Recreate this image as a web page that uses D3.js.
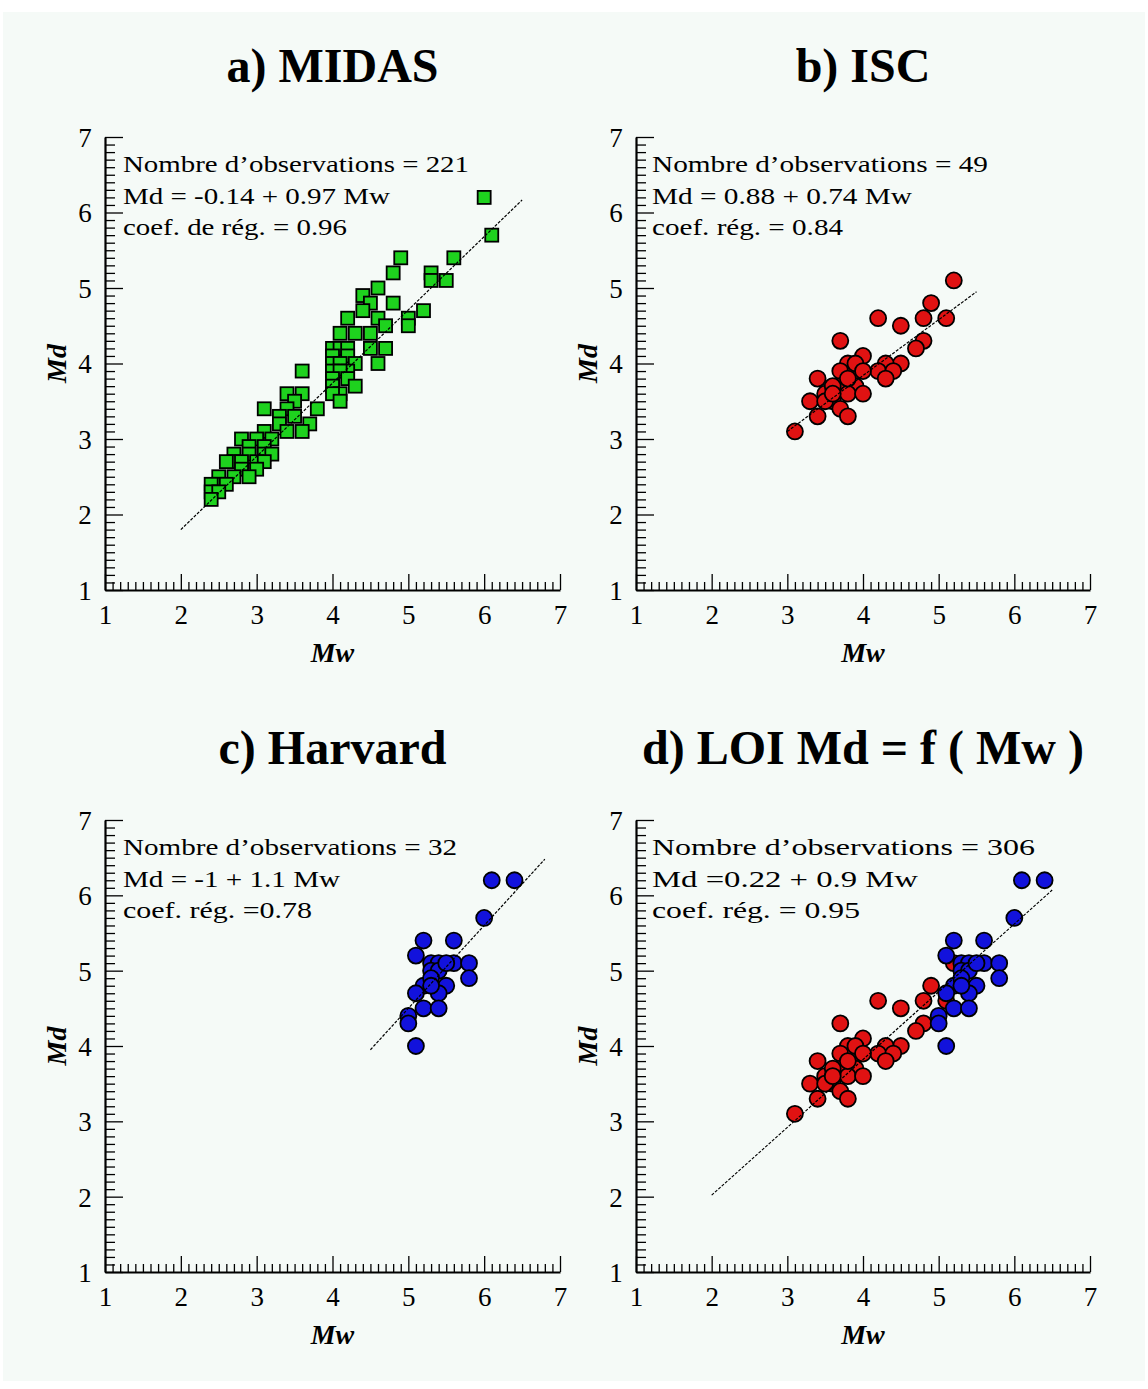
<!DOCTYPE html>
<html><head><meta charset="utf-8">
<script src="https://cdn.jsdelivr.net/npm/d3@7"></script>
<style>body{margin:0;background:#fff}svg{display:block}</style>
</head><body>
<script>
// ---------------- DATA ----------------
const tickValues = [1, 2, 3, 4, 5, 6, 7];
const titles = ["a) MIDAS", "b) ISC", "c) Harvard", "d) LOI Md = f ( Mw )"];
const annotations = [
  ["Nombre d’observations = 221", "Md = -0.14 + 0.97 Mw", "coef. de rég. = 0.96"],
  ["Nombre d’observations = 49", "Md = 0.88 + 0.74 Mw", "coef. rég. = 0.84"],
  ["Nombre d’observations = 32", "Md = -1 + 1.1 Mw", "coef. rég. =0.78"],
  ["Nombre d’observations = 306", "Md =0.22 + 0.9 Mw", "coef. rég. = 0.95"]
];
const midasMw = [6.0,6.1,4.9,4.8,5.6,5.3,5.3,5.5,4.6,4.4,4.5,4.8,4.4,4.6,4.2,4.7,5.0,5.2,5.0,4.3,4.5,4.1,4.5,4.7,4.6,
  4.0,4.1,4.2,4.0,4.2,4.0,4.1,4.3,4.0,4.2,4.1,4.0,4.2,4.3,4.0,4.1,4.0,4.1,3.6,
  3.6,3.4,3.5,3.1,3.4,3.8,3.3,3.5,3.3,3.7,3.4,3.6,3.1,3.2,2.8,3.0,2.9,3.1,2.9,3.1,3.2,2.7,2.7,2.6,2.8,3.0,3.1,
  2.8,3.0,2.9,2.7,2.5,2.5,2.4,2.6,2.4,2.5,2.4];
const midasMd = [6.2,5.7,5.4,5.2,5.4,5.2,5.1,5.1,5.0,4.9,4.8,4.8,4.7,4.6,4.6,4.5,4.6,4.7,4.5,4.4,4.4,4.4,4.2,4.2,4.0,
  4.2,4.2,4.2,4.1,4.1,4.0,4.0,4.0,3.9,3.9,3.9,3.8,3.8,3.7,3.7,3.6,3.6,3.5,3.9,
  3.6,3.6,3.5,3.4,3.4,3.4,3.3,3.3,3.2,3.2,3.1,3.1,3.1,3.0,3.0,3.0,2.9,2.9,2.8,2.8,2.8,2.8,2.7,2.7,2.7,2.7,2.7,
  2.6,2.6,2.5,2.5,2.5,2.4,2.4,2.4,2.3,2.3,2.2];
const iscMw = [5.2,4.9,4.2,4.8,5.1,4.5,3.7,4.8,4.7,4.0,4.5,4.3,3.8,3.7,3.9,4.2,4.4,4.3,3.4,3.7,3.9,3.5,3.8,4.0,3.3,3.6,3.7,3.4,3.8,3.1,3.6,3.8,3.9,4.0,3.5,3.6];
const iscMd = [5.1,4.8,4.6,4.6,4.6,4.5,4.3,4.3,4.2,4.1,4.0,4.0,4.0,3.9,3.9,3.9,3.9,3.8,3.8,3.7,3.7,3.6,3.6,3.6,3.5,3.5,3.4,3.3,3.3,3.1,3.7,3.8,4.0,3.9,3.5,3.6];
const harvardMw = [6.1,6.4,6.0,5.2,5.6,5.1,5.3,5.4,5.6,5.8,5.8,5.3,5.4,5.5,5.2,5.3,5.1,5.4,5.3,5.2,5.4,5.0,5.0,5.1,5.5];
const harvardMd = [6.2,6.2,5.7,5.4,5.4,5.2,5.1,5.1,5.1,5.1,4.9,5.0,5.0,4.8,4.8,4.9,4.7,4.7,4.8,4.5,4.5,4.4,4.3,4.0,5.1];
const fitIntercept = [-0.14, 0.88, -1, 0.22];
const fitSlope = [0.97, 0.74, 1.1, 0.9];
const fitFrom = [2, 3, 4.5, 2];
const fitTo = [6.5, 5.5, 6.8, 6.5];

// ---------------- LAYOUT ----------------
const W = 1148, H = 1389;
const layout = [
  {x0:105, x1:560, y0:137, y1:590, titleY:82, annoX:123, annoW:[346,267,224]},
  {x0:636, x1:1090, y0:137, y1:590, titleY:82, annoX:652, annoW:[336,260,191]},
  {x0:105, x1:560, y0:820, y1:1272, titleY:764, annoX:123, annoW:[334,217,189]},
  {x0:636, x1:1090, y0:820, y1:1272, titleY:764, annoX:652, annoW:[383,266,208]}
];
const GREEN = "#1ed21e", RED = "#e01212", BLUE = "#1212dc";
const seriesByPanel = [
  [{mw: midasMw, md: midasMd, shape: "square", color: GREEN}],
  [{mw: iscMw, md: iscMd, shape: "circle", color: RED}],
  [{mw: harvardMw, md: harvardMd, shape: "circle", color: BLUE}],
  [{mw: iscMw, md: iscMd, shape: "circle", color: RED}, {mw: harvardMw, md: harvardMd, shape: "circle", color: BLUE}]
];
const FONT = "Liberation Serif";
const minor = d3.range(10, 71).filter(d => d % 10 !== 0).map(d => d / 10);

const svg = d3.select("body").append("svg").attr("width", W).attr("height", H);
svg.append("rect").attr("width", W).attr("height", H).attr("fill", "#ffffff");
svg.append("rect").attr("x", 3).attr("y", 12).attr("width", W - 6).attr("height", H - 20).attr("fill", "#f5faf7");

layout.forEach((L, i) => {
  const x = d3.scaleLinear().domain([1, 7]).range([L.x0, L.x1]);
  const y = d3.scaleLinear().domain([1, 7]).range([L.y1, L.y0]);
  const g = svg.append("g");

  // title
  g.append("text").attr("x", (L.x0 + L.x1) / 2).attr("y", L.titleY)
    .attr("text-anchor", "middle").style("font-family", FONT).attr("font-weight", "bold")
    .attr("font-size", 48).attr("fill", "#000").text(titles[i]);

  // x axis minor
  const gxm = g.append("g").attr("transform", `translate(0,${L.y1})`)
    .call(d3.axisBottom(x).tickValues(minor).tickSize(-8).tickSizeOuter(0).tickFormat(""));
  gxm.select(".domain").remove();
  const gx = g.append("g").attr("transform", `translate(0,${L.y1})`)
    .call(d3.axisBottom(x).tickValues(tickValues).tickSize(-16).tickSizeOuter(0).tickFormat(d3.format("d")));
  gx.select(".domain").attr("stroke-width", 2.2);
  gx.selectAll("text").attr("y", 34).attr("dy", null).style("font-family", FONT).attr("font-size", 27).attr("fill", "#000");

  // y axis minor
  const gym = g.append("g").attr("transform", `translate(${L.x0},0)`)
    .call(d3.axisLeft(y).tickValues(minor).tickSize(-10).tickSizeOuter(0).tickFormat(""));
  gym.select(".domain").remove();
  const gy = g.append("g").attr("transform", `translate(${L.x0},0)`)
    .call(d3.axisLeft(y).tickValues(tickValues).tickSize(-18).tickSizeOuter(0).tickFormat(d3.format("d")));
  gy.select(".domain").attr("stroke-width", 2.2);
  gy.selectAll("text").attr("x", -20).attr("text-anchor", "middle").attr("dy", "0.35em")
    .style("font-family", FONT).attr("font-size", 27).attr("fill", "#000");
  g.selectAll(".tick line").attr("stroke", "#000").attr("stroke-width", 1.3);

  // axis titles
  g.append("text").attr("x", (L.x0 + L.x1) / 2).attr("y", L.y1 + 72)
    .attr("text-anchor", "middle").style("font-family", FONT).attr("font-style", "italic")
    .attr("font-weight", "bold").attr("font-size", 28).text("Mw");
  g.append("text").attr("transform", `translate(${L.x0 - 49},${(L.y0 + L.y1) / 2}) rotate(-90)`)
    .attr("text-anchor", "middle").attr("dy", "0.35em").style("font-family", FONT).attr("font-style", "italic")
    .attr("font-weight", "bold").attr("font-size", 28).text("Md");

  // annotations
  annotations[i].forEach((t, k) => {
    g.append("text").attr("x", L.annoX).attr("y", L.y0 + 35 + k * 31.5)
      .style("font-family", FONT).attr("font-size", 24).attr("fill", "#000")
      .attr("textLength", L.annoW[k]).attr("lengthAdjust", "spacingAndGlyphs").text(t);
  });

  // points
  seriesByPanel[i].forEach(s => {
    const pts = s.mw.map((m, j) => [m, s.md[j]]);
    if (s.shape === "square") {
      g.append("g").selectAll("rect").data(pts).join("rect")
        .attr("x", d => x(d[0]) - 6.5).attr("y", d => y(d[1]) - 6.5)
        .attr("width", 13).attr("height", 13)
        .attr("fill", s.color).attr("stroke", "#000").attr("stroke-width", 1.8);
    } else {
      g.append("g").selectAll("circle").data(pts).join("circle")
        .attr("cx", d => x(d[0])).attr("cy", d => y(d[1])).attr("r", 8)
        .attr("fill", s.color).attr("stroke", "#000").attr("stroke-width", 1.8);
    }
  });

  // regression line
  const a = fitIntercept[i], b = fitSlope[i];
  g.append("line")
    .attr("x1", x(fitFrom[i])).attr("y1", y(a + b * fitFrom[i]))
    .attr("x2", x(fitTo[i])).attr("y2", y(a + b * fitTo[i]))
    .attr("stroke", "#000").attr("stroke-width", 1.2).attr("stroke-dasharray", "3,1.5");
});
</script>
</body></html>
